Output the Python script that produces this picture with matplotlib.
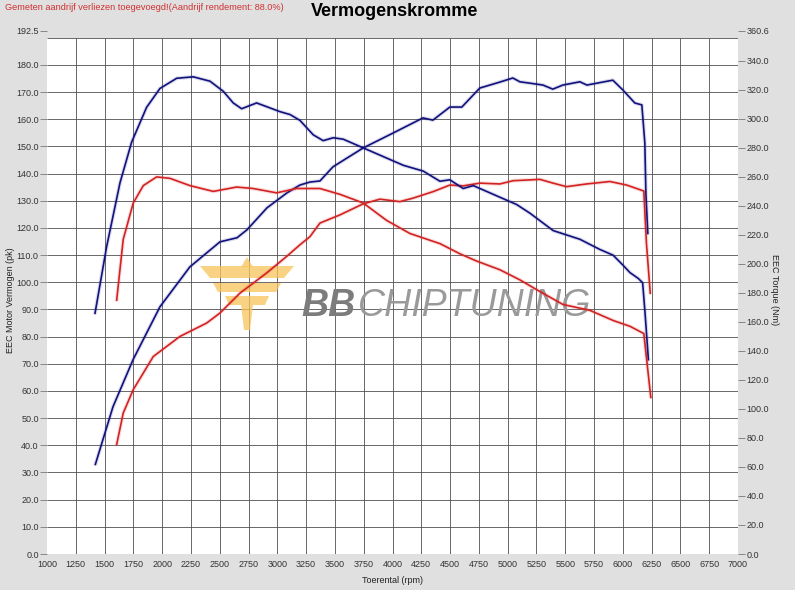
import numpy as np
import matplotlib
matplotlib.use("Agg")
import matplotlib.pyplot as plt
from matplotlib.patches import Polygon

# --- data -------------------------------------------------------------------
# blue = tuned run, red = stock run; power in pk (left axis), torque in Nm (right axis)
blue_power_rpm = [1420, 1573, 1747, 1981, 2241, 2502, 2650, 2736, 2910, 3083, 3196, 3283,
                  3370, 3483, 3743, 4003, 4264, 4351, 4498, 4602, 4758, 4932, 5045, 5106,
                  5193, 5306, 5392, 5479, 5627, 5688, 5913, 6000, 6104, 6165, 6191, 6200, 6217]
blue_power_pk = [33.0, 54.2, 71.5, 91.0, 105.7, 114.9, 116.4, 119.3, 127.4, 132.9, 135.8, 136.9,
                 137.3, 142.5, 149.4, 154.9, 160.5, 159.7, 164.5, 164.5, 171.5, 173.7, 175.2, 173.8,
                 173.3, 172.6, 171.1, 172.6, 173.8, 172.6, 174.4, 170.8, 166.0, 165.3, 151.3, 133.0, 118.0]

blue_torque_rpm = [1417, 1518, 1634, 1735, 1865, 1981, 2126, 2270, 2415, 2531, 2617, 2690,
                   2820, 3023, 3110, 3196, 3312, 3398, 3486, 3572, 3746, 3920, 4094, 4267,
                   4412, 4498, 4614, 4701, 4817, 4932, 5077, 5193, 5395, 5627, 5800, 5916,
                   6003, 6062, 6134, 6172, 6193, 6222]
blue_torque_nm = [166, 212, 256, 284, 308, 321, 328, 329, 326, 319, 311, 307,
                  311, 305, 303, 299, 289, 285, 287, 286, 280, 274, 268, 264,
                  257, 258, 252, 254, 250, 246, 241, 235, 223, 217, 210, 206,
                  199, 194, 190, 187, 166, 134]

red_power_rpm = [1605, 1662, 1749, 1923, 2155, 2386, 2502, 2675, 2906, 3080, 3196, 3283,
                 3370, 3543, 3746, 3891, 4064, 4180, 4354, 4498, 4614, 4758, 4932, 5048,
                 5193, 5279, 5395, 5511, 5685, 5888, 6033, 6182, 6205, 6238]
red_power_pk = [40.3, 51.9, 60.5, 72.7, 80.1, 85.0, 88.7, 96.0, 103.4, 109.5, 113.8, 116.8,
                121.8, 124.8, 128.9, 130.6, 129.7, 131.0, 133.4, 135.8, 135.5, 136.5, 136.2, 137.4,
                137.7, 137.9, 136.5, 135.2, 136.2, 137.1, 135.8, 133.6, 114.4, 96.0]

red_torque_rpm = [1605, 1662, 1749, 1836, 1952, 2068, 2241, 2444, 2646, 2790, 2993, 3167,
                  3370, 3543, 3746, 3949, 4151, 4412, 4585, 4730, 4932, 5106, 5279, 5481,
                  5714, 5916, 6062, 6182, 6243]
red_torque_nm = [175, 217, 242, 254, 260, 259, 254, 250, 253, 252, 249, 252,
                 252, 248, 242, 230, 221, 214, 207, 202, 196, 189, 181, 172,
                 168, 161, 157, 152, 108]

left_ticks = [0, 10, 20, 30, 40, 50, 60, 70, 80, 90, 100, 110, 120, 130, 140, 150,
              160, 170, 180, 192.5]
right_ticks = [0, 20, 40, 60, 80, 100, 120, 140, 160, 180, 200, 220, 240, 260, 280,
               300, 320, 340, 360.6]
x_ticks = list(range(1000, 7001, 250))

BG = "#e0e0e0"
BLUE = "#12127e"
RED = "#d42222"
FONT = ["Liberation Sans", "DejaVu Sans"]
plt.rcParams["font.family"] = FONT

W, H = 795, 590


def px(x, y):
    """pixel position (from top-left) -> figure fraction"""
    return x / W, 1 - y / H


fig = plt.figure(figsize=(W / 100, H / 100), dpi=100, facecolor=BG)
ax = fig.add_axes([47 / W, 36 / H, 691 / W, 523 / H])
ax.set_facecolor("white")
ax.set_xlim(1000, 7000)
ax.set_ylim(0, 192.5)
for s in ax.spines.values():
    s.set_visible(False)

# grid: interior lines only, top band above 190 stays grey
ax.vlines(x_ticks[1:-1], 0, 190, color="#505050", lw=0.6, zorder=1)
ax.hlines(left_ticks[1:-1] + [190], 1000, 7000, color="#505050", lw=0.6, zorder=1)
ax.axhspan(190, 192.5, color=BG, lw=0, zorder=1.5)

ax2 = ax.twinx()
ax2.set_ylim(0, 360.6)
for s in ax2.spines.values():
    s.set_visible(False)

ax.set_xticks(x_ticks)
ax.set_xticklabels([str(t) for t in x_ticks])
ax.set_yticks(left_ticks)
ax.set_yticklabels([f"{t:.1f}" for t in left_ticks])
ax2.set_yticks(right_ticks)
ax2.set_yticklabels([f"{t:.1f}" for t in right_ticks])
ax.tick_params(axis="y", length=5, width=0.6, color="#777777", labelsize=6.5,
               labelcolor="#333333", pad=1)
ax.tick_params(axis="x", length=0, labelsize=6.5, labelcolor="#333333", pad=4)
ax2.tick_params(axis="y", length=5, width=0.6, color="#777777", labelsize=6.5,
                labelcolor="#333333", pad=1)

ax.set_xlabel("Toerental (rpm)", fontsize=6.5, color="#222222")
ax.xaxis.set_label_coords(0.5, -0.043)
fig.text(*px(11, 300), "EEC Motor Vermogen (pk)", rotation=90, fontsize=6.5,
         color="#222222", ha="center", va="center")
fig.text(*px(775, 290), "EEC Torque (Nm)", rotation=270, fontsize=6.5,
         color="#222222", ha="center", va="center")

# watermark (sits under the curves)
gold = "#f8c55a"
shapes = [
    [(247, 257), (241, 267), (253, 267)],
    [(200, 266), (294, 266), (284, 278), (210, 278)],
    [(213, 283), (281, 283), (276, 292), (218, 292)],
    [(225, 296), (269, 296), (265, 305), (229, 305)],
    [(241, 305), (253, 305), (250, 330), (244, 330)],
]
for pts in shapes:
    ax.add_patch(Polygon([px(*p) for p in pts], closed=True, transform=fig.transFigure,
                         facecolor=gold, edgecolor="none", alpha=0.75, zorder=2))
ax.text(*px(301, 316), "BB", transform=fig.transFigure, fontsize=27, fontweight="bold",
        fontstyle="italic", color="#7c7c7c", va="baseline", ha="left", zorder=2)
ax.text(*px(358, 316), "CHIPTUNING", transform=fig.transFigure, fontsize=27,
        fontstyle="italic", color="#9a9a9a", va="baseline", ha="left", zorder=2)

# curves: soft halo under each line like the scanned sheet
for x, y, c in [(blue_power_rpm, blue_power_pk, BLUE),
                (red_power_rpm, red_power_pk, RED)]:
    ax.plot(x, y, color=c, lw=2.8, alpha=0.15, zorder=3, solid_capstyle="round")
    ax.plot(x, y, color=c, lw=1.2, zorder=4)
for x, y, c in [(blue_torque_rpm, blue_torque_nm, BLUE),
                (red_torque_rpm, red_torque_nm, RED)]:
    ax2.plot(x, y, color=c, lw=2.8, alpha=0.15, zorder=3, solid_capstyle="round")
    ax2.plot(x, y, color=c, lw=1.2, zorder=4)

# header
fig.text(*px(395, 12), "Vermogenskromme", fontsize=13, fontweight="bold",
         color="black", ha="center", va="center")
fig.text(*px(5, 8), "Gemeten aandrijf verliezen toegevoegd!(Aandrijf rendement: 88.0%)",
         fontsize=6.6, color="#d03030", ha="left", va="center")

fig.savefig("out.png", dpi=100, facecolor=BG)
